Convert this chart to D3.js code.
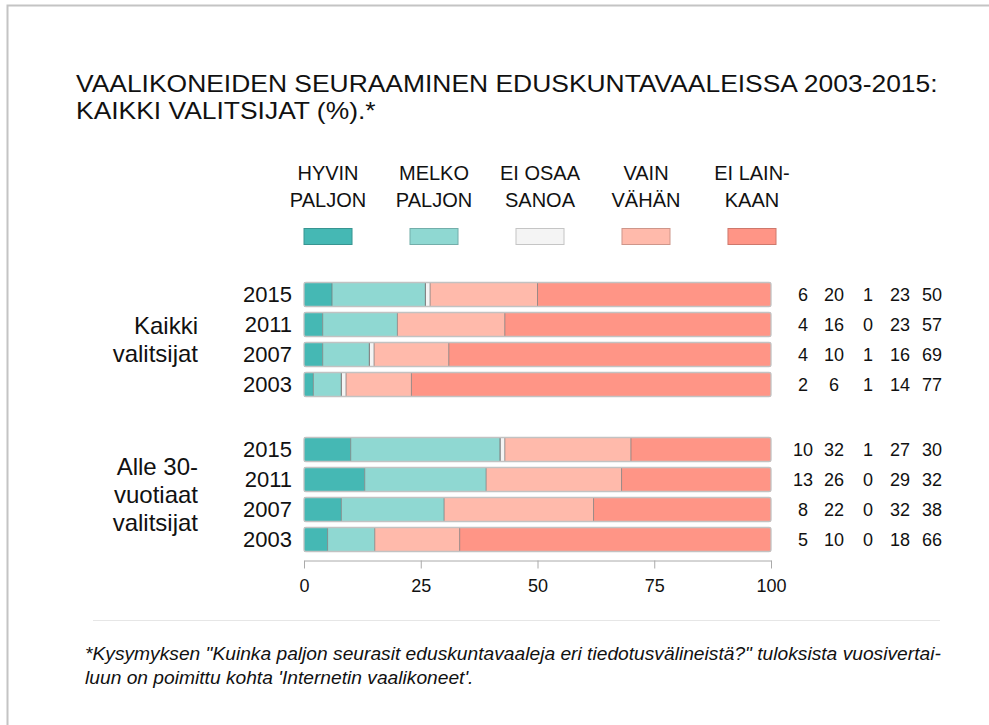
<!DOCTYPE html>
<html>
<head>
<meta charset="utf-8">
<script src="https://cdn.jsdelivr.net/npm/d3@7"></script>
<style>
  body { margin: 0; background: #fff; }
  text { font-family: "Liberation Sans", Arial, sans-serif; fill: #111; }
</style>
</head>
<body>
<div id="chart"></div>
<script>
// data
var categories = ["HYVIN PALJON", "MELKO PALJON", "EI OSAA SANOA", "VAIN VÄHÄN", "EI LAINKAAN"];
var legendLines = [["HYVIN", "PALJON"], ["MELKO", "PALJON"], ["EI OSAA", "SANOA"], ["VAIN", "VÄHÄN"], ["EI LAIN-", "KAAN"]];
var colors = ["#45b8b4", "#8fd8d2", "#f4f4f4", "#ffbaab", "#ff9586"];
var years = ["2015", "2011", "2007", "2003"];
var groupNames = [["Kaikki", "valitsijat"], ["Alle 30-", "vuotiaat", "valitsijat"]];
var allVoters = [
  [6, 20, 1, 23, 50],
  [4, 16, 0, 23, 57],
  [4, 10, 1, 16, 69],
  [2, 6, 1, 14, 77]
];
var under30 = [
  [10, 32, 1, 27, 30],
  [13, 26, 0, 29, 32],
  [8, 22, 0, 32, 38],
  [5, 10, 0, 18, 66]
];
var xTicks = [0, 25, 50, 75, 100];

var svgWidth = 989;
var svgHeight = 725;

var svg = d3.select("#chart")
  .append("svg")
  .attr("width", svgWidth)
  .attr("height", svgHeight);

// frame of the page box
svg.append("path")
  .attr("d", "M7.5,725 V5.5 H989")
  .attr("fill", "none")
  .attr("stroke", "#c4c4c4")
  .attr("stroke-width", 2);

// title, stretched so the first line spans 76..938
var titleG = svg.append("g");
var title = titleG.append("text")
  .style("font-size", "23.5px");
title.append("tspan").attr("x", 0).attr("y", 0).text("VAALIKONEIDEN SEURAAMINEN EDUSKUNTAVAALEISSA 2003-2015:");
title.append("tspan").attr("x", 0).attr("y", 27.5).text("KAIKKI VALITSIJAT (%).*");
var titleW = title.select("tspan").node().getComputedTextLength();
titleG.attr("transform", `translate(76,92) scale(${862 / titleW},1)`);

var x = d3.scaleLinear().domain([0, 100]).range([304, 771]);

// legend
var legendX = d3.scaleBand().domain(categories).range([304, 776]).paddingInner(0.547);

var legend = svg.selectAll(".legend")
  .data(categories)
  .enter()
  .append("g")
  .attr("class", "legend");

legend.append("rect")
  .attr("x", d => legendX(d))
  .attr("y", 228.5)
  .attr("width", legendX.bandwidth())
  .attr("height", 16)
  .attr("fill", (d, i) => colors[i])
  .attr("stroke", (d, i) => d3.color(colors[i]).darker(0.6))
  .attr("stroke-width", 1);

legend.append("text")
  .attr("text-anchor", "middle")
  .style("font-size", "20px")
  .selectAll("tspan")
  .data((d, i) => legendLines[i].map(t => ({ t: t, c: d })))
  .enter()
  .append("tspan")
  .attr("x", d => legendX(d.c) + legendX.bandwidth() / 2)
  .attr("y", (d, j) => 180 + j * 27)
  .text(d => d.t);

// bar groups
var groups = [
  { names: groupNames[0], rows: allVoters, top: 279.5, bottom: 399.5 },
  { names: groupNames[1], rows: under30, top: 434.5, bottom: 554.5 }
];
var valueX = [803, 834, 868, 900, 932];

groups.forEach(function(g) {
  var y = d3.scaleBand().domain(years).range([g.top, g.bottom])
    .paddingInner(0.2).paddingOuter(0.1);

  var rowData = g.rows.map(function(vals, i) {
    var total = d3.sum(vals);
    var cum = 0;
    var segs = vals.map(function(v, k) {
      var s = { x0: cum / total * 100, x1: (cum + v) / total * 100, k: k };
      cum += v;
      return s;
    });
    return { year: years[i], vals: vals, segs: segs };
  });

  var rows = svg.selectAll(null)
    .data(rowData)
    .enter()
    .append("g");

  rows.selectAll("rect.seg")
    .data(d => d.segs.map(s => Object.assign({ year: d.year }, s)))
    .enter()
    .append("rect")
    .attr("class", "seg")
    .attr("x", d => x(d.x0))
    .attr("y", d => y(d.year))
    .attr("width", d => x(d.x1) - x(d.x0))
    .attr("height", y.bandwidth())
    .attr("fill", d => colors[d.k]);

  // separators between segments
  rows.selectAll("line.sep")
    .data(d => d.segs.slice(0, -1).filter(s => s.x1 > s.x0).map(s => ({ year: d.year, v: s.x1 })))
    .enter()
    .append("line")
    .attr("class", "sep")
    .attr("x1", d => x(d.v))
    .attr("x2", d => x(d.v))
    .attr("y1", d => y(d.year))
    .attr("y2", d => y(d.year) + y.bandwidth())
    .attr("stroke", "#7a7a7a")
    .attr("stroke-opacity", 0.75)
    .attr("stroke-width", 1);

  // white segments (EI OSAA SANOA) get a grey edge on both sides
  rows.selectAll("line.sep0")
    .data(d => d.segs.filter(s => s.k === 2 && s.x1 > s.x0).map(s => ({ year: d.year, v: s.x0 })))
    .enter()
    .append("line")
    .attr("x1", d => x(d.v))
    .attr("x2", d => x(d.v))
    .attr("y1", d => y(d.year))
    .attr("y2", d => y(d.year) + y.bandwidth())
    .attr("stroke", "#7a7a7a")
    .attr("stroke-opacity", 0.75);

  rows.append("rect")
    .attr("x", x(0))
    .attr("y", d => y(d.year))
    .attr("width", x(100) - x(0))
    .attr("height", y.bandwidth())
    .attr("rx", 2)
    .attr("fill", "none")
    .attr("stroke", "#c2c2c2")
    .attr("stroke-width", 1.3);

  rows.append("text")
    .attr("x", 292)
    .attr("y", d => y(d.year) + y.bandwidth() / 2)
    .attr("dy", "0.36em")
    .attr("text-anchor", "end")
    .style("font-size", "22px")
    .text(d => d.year);

  rows.selectAll("text.val")
    .data(d => d.vals.map((v, k) => ({ v: v, k: k, year: d.year })))
    .enter()
    .append("text")
    .attr("class", "val")
    .attr("x", d => valueX[d.k])
    .attr("y", d => y(d.year) + y.bandwidth() / 2)
    .attr("dy", "0.36em")
    .attr("text-anchor", "middle")
    .style("font-size", "18px")
    .text(d => d.v);

  // group label, centred on the group
  var mid = (g.top + g.bottom) / 2;
  var n = g.names.length;
  svg.append("text")
    .attr("text-anchor", "end")
    .style("font-size", "24px")
    .selectAll("tspan")
    .data(g.names)
    .enter()
    .append("tspan")
    .attr("x", 198)
    .attr("y", (d, i) => mid + (i - (n - 1) / 2) * 28)
    .attr("dy", "0.36em")
    .text(d => d);
});

// x axis
var axis = svg.append("g")
  .attr("transform", "translate(0,560.5)")
  .call(d3.axisBottom(x).tickValues(xTicks).tickSize(8).tickPadding(11).tickSizeOuter(0));
axis.select(".domain").attr("stroke", "#aaa");
axis.selectAll(".tick line").attr("stroke", "#aaa");
axis.selectAll(".tick text")
  .style("font-family", "'Liberation Sans', Arial, sans-serif")
  .style("font-size", "18px")
  .attr("fill", "#111");

// rule above the footnote
svg.append("line")
  .attr("x1", 93).attr("x2", 940)
  .attr("y1", 620.5).attr("y2", 620.5)
  .attr("stroke", "#e6e6e6");

// footnote: a condensed italic, squeezed so that the first line spans 85..941
var foot = svg.append("g");
var footText = foot.append("text")
  .style("font-size", "18px")
  .style("font-style", "italic");
footText.append("tspan")
  .attr("x", 0).attr("y", 0)
  .text("*Kysymyksen \"Kuinka paljon seurasit eduskuntavaaleja eri tiedotusvälineistä?\" tuloksista vuosivertai-");
footText.append("tspan")
  .attr("x", 0).attr("y", 24)
  .text("luun on poimittu kohta 'Internetin vaalikoneet'.");
var natural = footText.select("tspan").node().getComputedTextLength();
foot.attr("transform", `translate(85,660) scale(${856 / natural},1)`);
</script>
</body>
</html>
